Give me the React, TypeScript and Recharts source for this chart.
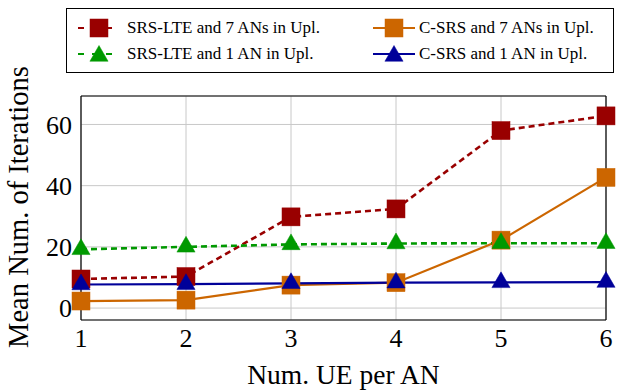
import { CartesianGrid, Label, Line, LineChart, ReferenceLine, XAxis, YAxis } from "recharts";

const ues = [1, 2, 3, 4, 5, 6];
const srsLte7 = [9.5, 10.3, 29.8, 32.4, 58, 62.8];
const cSrs7 = [2.3, 2.6, 7.5, 8.3, 22.2, 42.7];
const srsLte1 = [19.2, 20, 20.8, 21.1, 21.2, 21.2];
const cSrs1 = [7.7, 7.8, 8.1, 8.3, 8.4, 8.5];
const yTicks = [0, 20, 40, 60];

const Y_MIN = -3.9;
const Y_MAX = 69.3;
const FONT = '"Liberation Serif", "Times New Roman", serif';

type SeriesDef = {
	key: string;
	name: string;
	color: string;
	dashed: boolean;
	marker: "square" | "triangle";
};

const series: SeriesDef[] = [
	{ key: "srsLte7", name: "SRS-LTE and 7 ANs in Upl.", color: "#990000", dashed: true, marker: "square" },
	{ key: "cSrs7", name: "C-SRS and 7 ANs in Upl.", color: "#cc6600", dashed: false, marker: "square" },
	{ key: "srsLte1", name: "SRS-LTE and 1 AN in Upl.", color: "#009900", dashed: true, marker: "triangle" },
	{ key: "cSrs1", name: "C-SRS and 1 AN in Upl.", color: "#000099", dashed: false, marker: "triangle" },
];

const data = ues.map((ue, i) => ({
	ue,
	srsLte7: srsLte7[i],
	cSrs7: cSrs7[i],
	srsLte1: srsLte1[i],
	cSrs1: cSrs1[i],
}));

function Marker({ cx, cy, kind, color }: { cx: number; cy: number; kind: string; color: string }) {
	if (kind === "square") {
		const h = 9;
		return <rect x={cx - h} y={cy - h} width={2 * h} height={2 * h} fill={color} stroke={color} strokeWidth={0.5} />;
	}
	const r = 10.5;
	const pts = `${cx},${cy - r} ${cx - r * 0.866},${cy + r / 2} ${cx + r * 0.866},${cy + r / 2}`;
	return <polygon points={pts} fill={color} stroke={color} strokeWidth={0.5} />;
}

function makeDot(s: SeriesDef) {
	return (props: any) => {
		if (props.cx == null || props.cy == null) return <g key={props.index} />;
		return (
			<g key={`${s.key}-${props.index}`}>
				<Marker cx={props.cx} cy={props.cy} kind={s.marker} color={s.color} />
			</g>
		);
	};
}

function LegendSample({ s }: { s: SeriesDef }) {
	return (
		<svg width={44} height={24} style={{ display: "block" }}>
			<line
				x1={1}
				x2={43}
				y1={12}
				y2={12}
				stroke={s.color}
				strokeWidth={2.2}
				strokeDasharray={s.dashed ? "6 8" : undefined}
			/>
			<Marker cx={22} cy={s.marker === "triangle" ? 14 : 12} kind={s.marker} color={s.color} />
		</svg>
	);
}

// legend cell offsets inside the box: [sample left, text left]
const legendCols = [
	[10, 60],
	[305, 352],
];
const legendRows = [19, 45];

function LegendBox() {
	return (
		<div
			style={{
				position: "absolute",
				left: 66,
				top: 8,
				width: 548,
				height: 65,
				border: "1px solid #000",
				boxSizing: "border-box",
				background: "#fff",
				fontFamily: FONT,
				fontSize: 17,
				color: "#000",
			}}
		>
			{series.map((s, i) => {
				const [sx, tx] = legendCols[i % 2];
				const cy = legendRows[Math.floor(i / 2)];
				return (
					<div key={s.key}>
						<div style={{ position: "absolute", left: sx, top: cy - 12 }}>
							<LegendSample s={s} />
						</div>
						<div
							style={{
								position: "absolute",
								left: tx,
								top: cy - 11,
								lineHeight: "22px",
								whiteSpace: "nowrap",
							}}
						>
							{s.name}
						</div>
					</div>
				);
			})}
		</div>
	);
}

export default function App() {
	const tick = { fill: "#000", fontSize: 26, fontFamily: FONT };
	return (
		<div style={{ position: "absolute", left: 0, top: 0, width: 618, height: 390, background: "#fff" }}>
			<LineChart width={618} height={390} data={data} margin={{ top: 96, right: 12, bottom: 0, left: 0 }}>
				<CartesianGrid stroke="#c8c8c8" strokeWidth={1} />
				<XAxis
					dataKey="ue"
					type="number"
					domain={[1, 6]}
					ticks={ues}
					tick={tick}
					tickLine={false}
					axisLine={{ stroke: "#000", strokeWidth: 1.2 }}
					height={70}
					tickMargin={3}
				>
					<Label
						value="Num. UE per AN"
						position="insideBottom"
						offset={6}
						style={{ fontSize: 27.5, fontFamily: FONT, fill: "#000" }}
					/>
				</XAxis>
				<YAxis
					type="number"
					domain={[Y_MIN, Y_MAX]}
					ticks={yTicks}
					tick={tick}
					tickLine={false}
					axisLine={{ stroke: "#000", strokeWidth: 1.2 }}
					width={81}
					tickMargin={3}
				>
					<Label
						content={() => {
							const cx = 18;
							const cy = 207;
							return (
								<text
									x={cx}
									y={cy}
									transform={`rotate(-90, ${cx}, ${cy})`}
									textAnchor="middle"
									dominantBaseline="central"
									fontSize={28.5}
									fontFamily={FONT}
									fill="#000"
								>
									Mean Num. of Iterations
								</text>
							);
						}}
					/>
				</YAxis>
				<ReferenceLine y={Y_MAX} stroke="#000" strokeWidth={1.2} />
				<ReferenceLine x={6} stroke="#000" strokeWidth={1.2} />
				{series.map((s) => (
					<Line
						key={s.key}
						dataKey={s.key}
						name={s.name}
						type="linear"
						stroke={s.color}
						strokeWidth={s.dashed ? 2.6 : 2.2}
						strokeDasharray={s.dashed ? "6 4" : undefined}
						dot={makeDot(s)}
						activeDot={false}
						isAnimationActive={false}
					/>
				))}
			</LineChart>
			<LegendBox />
		</div>
	);
}
